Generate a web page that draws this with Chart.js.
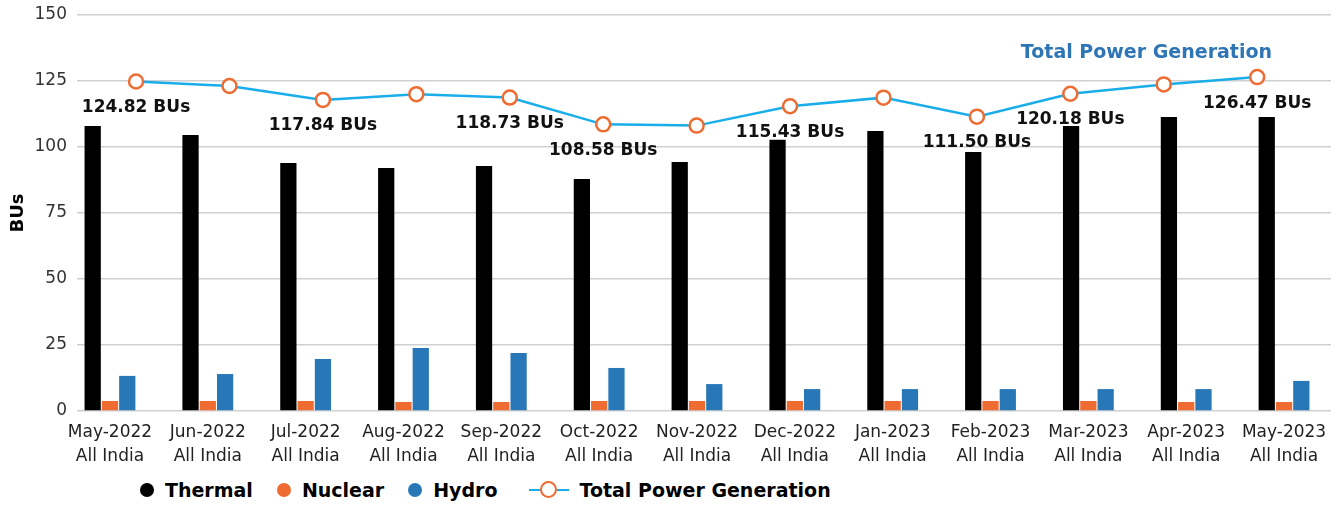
<!DOCTYPE html>
<html>
<head>
<meta charset="utf-8">
<title>Power Generation</title>
<script src="https://cdn.jsdelivr.net/npm/chart.js@4.4.0/dist/chart.umd.min.js"></script>
<style>
  body { margin: 0; background: #fff; }
  #wrap { position: relative; width: 1342px; height: 505px; }
  #chart-box { position: absolute; left: 0; top: 0; width: 1342px; height: 470px; }
  #legend { position: absolute; left: 140px; top: 479px; display: flex; align-items: center; font: bold 19px "DejaVu Sans", sans-serif; color: #000; }
  .item { display: flex; align-items: center; margin-right: 24px; }
  .item:nth-child(3) { margin-right: 32px; }
  .dot { width: 14px; height: 14px; border-radius: 50%; margin-right: 11px; }
  .line-mark { position: relative; width: 40px; height: 18px; margin-right: 10px; }
  .line-mark .ln { position: absolute; left: 0; right: 0; top: 8px; height: 2px; }
  .line-mark .pt { position: absolute; left: 11px; top: 0; width: 13px; height: 13px; border-radius: 50%; background: #fff; border: 2.5px solid; }
</style>
</head>
<body>
<div id="wrap">
  <div id="chart-box"><canvas id="chart"></canvas></div>
  <div id="legend"></div>
</div>
<script>
const months = ['May-2022', 'Jun-2022', 'Jul-2022', 'Aug-2022', 'Sep-2022', 'Oct-2022', 'Nov-2022',
  'Dec-2022', 'Jan-2023', 'Feb-2023', 'Mar-2023', 'Apr-2023', 'May-2023'];
const region = 'All India';
const thermal = [108.0, 104.5, 93.9, 92.0, 92.8, 87.9, 94.3, 102.7, 106.1, 98.1, 108.0, 111.4, 111.4];
const nuclear = [3.8, 3.8, 3.8, 3.4, 3.4, 3.8, 3.8, 3.8, 3.8, 3.8, 3.8, 3.4, 3.4];
const hydro = [13.3, 14.0, 19.7, 23.9, 22.0, 16.3, 10.2, 8.3, 8.3, 8.3, 8.3, 8.3, 11.4];
const totalGen = [124.82, 123.1, 117.84, 120.0, 118.73, 108.58, 108.1, 115.43, 118.7, 111.50, 120.18, 123.7, 126.47];
// only these points carry a value label in the original
const labelledPoints = [0, 2, 4, 5, 7, 9, 10, 12];
const yTicks = [0, 25, 50, 75, 100, 125, 150];

const FONT = '"DejaVu Sans", sans-serif';
const colors = { thermal: '#000000', nuclear: '#ee6b31', hydro: '#2878b8', line: '#19aeea' };

const xy = arr => arr.map((v, i) => ({ x: i, y: v }));

// value labels under the total line + the blue caption
const labelsPlugin = {
  id: 'totalLabels',
  afterDatasetsDraw(chart) {
    const { ctx, chartArea } = chart;
    const meta = chart.getDatasetMeta(3);
    ctx.save();
    ctx.font = 'bold 17px ' + FONT;
    ctx.fillStyle = '#111';
    ctx.textAlign = 'center';
    ctx.textBaseline = 'middle';
    labelledPoints.forEach(i => {
      const p = meta.data[i];
      ctx.fillText(totalGen[i].toFixed(2) + ' BUs', p.x, p.y + 26);
    });
    ctx.font = 'bold 19px ' + FONT;
    ctx.fillStyle = '#2e75b6';
    ctx.textAlign = 'right';
    ctx.fillText('Total Power Generation', chartArea.right - 59, chartArea.top + 38);
    ctx.restore();
  }
};

const noPad = s => { s.paddingTop = 0; s.paddingBottom = 0; s.paddingLeft = 0; s.paddingRight = 0; };

const chart = new Chart(document.getElementById('chart'), {
  data: {
    datasets: [
      { type: 'bar', label: 'Thermal', data: xy(thermal), backgroundColor: colors.thermal, order: 2 },
      { type: 'bar', label: 'Nuclear', data: xy(nuclear), backgroundColor: colors.nuclear, order: 2 },
      { type: 'bar', label: 'Hydro', data: xy(hydro), backgroundColor: colors.hydro, order: 2 },
      {
        type: 'line', label: 'Total Power Generation', data: xy(totalGen), xAxisID: 'x2',
        borderColor: colors.line, borderWidth: 2.5, pointRadius: 7, pointHoverRadius: 7,
        pointBackgroundColor: '#fff', pointBorderColor: colors.nuclear, pointBorderWidth: 2.5,
        order: 1
      }
    ]
  },
  options: {
    responsive: true,
    maintainAspectRatio: false,
    animation: false,
    // chart-level indexAxis 'y' stops the bar controller from splitting groups per x axis
    // (the line lives on its own x2 axis); every dataset is still drawn along x
    indexAxis: 'y',
    layout: { padding: { top: 15, right: 11, left: 0, bottom: 0 } },
    datasets: {
      bar: { indexAxis: 'x', categoryPercentage: 0.53, barPercentage: 0.94 },
      line: { indexAxis: 'x' }
    },
    plugins: { legend: { display: false }, tooltip: { enabled: false } },
    scales: {
      x: {
        type: 'linear', min: -0.337, max: 12.48, offset: false,
        afterBuildTicks: s => { s.ticks = months.map((_, i) => ({ value: i })); },
        afterFit: s => { s.height = 59; noPad(s); },
        grid: { display: false },
        border: { display: false },
        ticks: {
          autoSkip: false, maxRotation: 0, padding: 2, color: '#222',
          font: { family: FONT, size: 17, lineHeight: 1.4 },
          callback: v => [months[v], region]
        }
      },
      x2: { type: 'linear', display: false, offset: false, min: -0.632, max: 12.79 },
      y: {
        type: 'linear', min: 0, max: 150,
        afterBuildTicks: s => { s.ticks = yTicks.map(v => ({ value: v })); },
        afterFit: s => { s.width = 77; noPad(s); },
        grid: { color: '#d0d0d0', lineWidth: 1.5, drawTicks: false },
        border: { display: false },
        ticks: { padding: 10, color: '#333', font: { family: FONT, size: 17 } },
        title: { display: true, text: 'BUs', color: '#000', font: { family: FONT, size: 18, weight: 'bold' }, padding: { top: 8, bottom: 0 } }
      }
    }
  },
  plugins: [labelsPlugin]
});

// html legend built from the datasets
const legend = document.getElementById('legend');
chart.data.datasets.forEach(ds => {
  const item = document.createElement('div');
  item.className = 'item';
  if (ds.type === 'line') {
    item.innerHTML = '<span class="line-mark"><span class="ln" style="background:' + ds.borderColor +
      '"></span><span class="pt" style="border-color:' + ds.pointBorderColor + '"></span></span>';
  } else {
    item.innerHTML = '<span class="dot" style="background:' + ds.backgroundColor + '"></span>';
  }
  item.appendChild(document.createTextNode(ds.label));
  legend.appendChild(item);
});
</script>
</body>
</html>
